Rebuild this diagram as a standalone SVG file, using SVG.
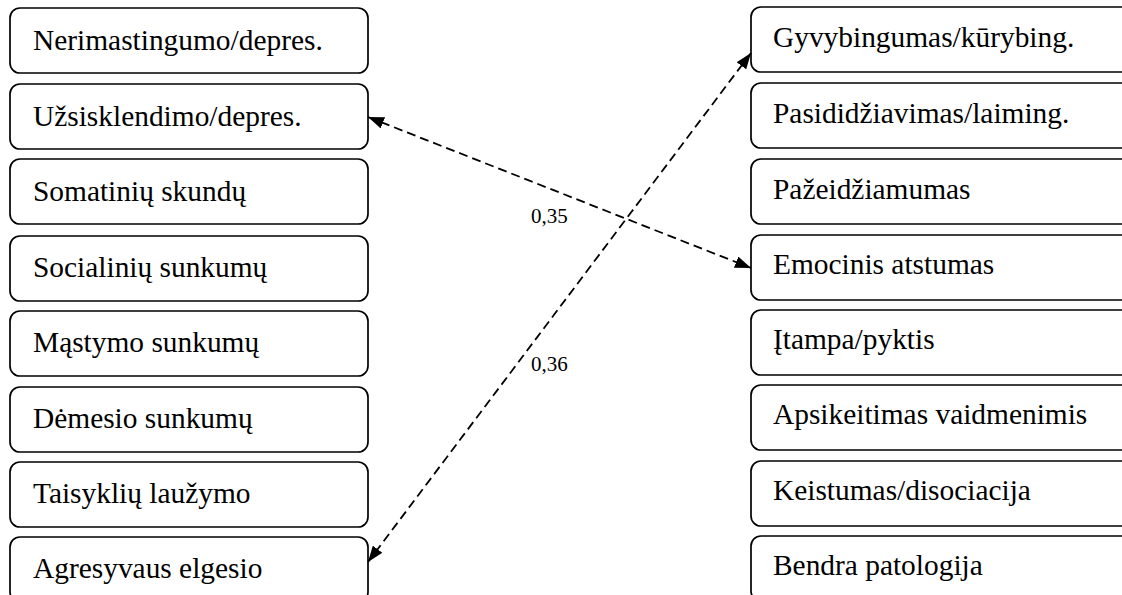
<svg xmlns="http://www.w3.org/2000/svg" width="1122" height="595" viewBox="0 0 1122 595">
<defs>
<style>
.box{fill:#fff;stroke:#000;stroke-width:1.7}
.t{font-family:"Liberation Serif","Times New Roman",serif;font-size:29.4px;fill:#000}
.lbl{font-family:"Liberation Serif","Times New Roman",serif;font-size:21px;fill:#000}
.con{fill:none;stroke:#000;stroke-width:1.8;stroke-dasharray:9,5}
</style>
<marker id="ah" viewBox="0 0 16 12" refX="16" refY="6" markerWidth="16" markerHeight="12" markerUnits="userSpaceOnUse" orient="auto-start-reverse">
<path d="M0,0 L16,6 L0,12 z" fill="#000"/>
</marker>
</defs>
<rect width="1122" height="595" fill="#fff"/>
<g id="n-l1"><rect class="box" x="10" y="8" width="358" height="65" rx="10"/><text class="t" x="33" y="50">Nerimastingumo/depres.</text></g>
<g id="n-l2"><rect class="box" x="10" y="84" width="358" height="65" rx="10"/><text class="t" x="33" y="126">Užsisklendimo/depres.</text></g>
<g id="n-l3"><rect class="box" x="10" y="159" width="358" height="65" rx="10"/><text class="t" x="33" y="201">Somatinių skundų</text></g>
<g id="n-l4"><rect class="box" x="10" y="236" width="358" height="65" rx="10"/><text class="t" x="33" y="277">Socialinių sunkumų</text></g>
<g id="n-l5"><rect class="box" x="10" y="311" width="358" height="65" rx="10"/><text class="t" x="33" y="352">Mąstymo sunkumų</text></g>
<g id="n-l6"><rect class="box" x="10" y="387" width="358" height="65" rx="10"/><text class="t" x="33" y="428">Dėmesio sunkumų</text></g>
<g id="n-l7"><rect class="box" x="10" y="462" width="358" height="65" rx="10"/><text class="t" x="33" y="503">Taisyklių laužymo</text></g>
<g id="n-l8"><rect class="box" x="10" y="537" width="358" height="65" rx="10"/><text class="t" x="33" y="578">Agresyvaus elgesio</text></g>
<g id="n-r1"><rect class="box" x="751" y="7" width="390" height="65" rx="10"/><text class="t" x="773" y="47">Gyvybingumas/kūrybing.</text></g>
<g id="n-r2"><rect class="box" x="751" y="83" width="390" height="65" rx="10"/><text class="t" x="773" y="123">Pasididžiavimas/laiming.</text></g>
<g id="n-r3"><rect class="box" x="751" y="159" width="390" height="65" rx="10"/><text class="t" x="773" y="199">Pažeidžiamumas</text></g>
<g id="n-r4"><rect class="box" x="751" y="235" width="390" height="65" rx="10"/><text class="t" x="773" y="274">Emocinis atstumas</text></g>
<g id="n-r5"><rect class="box" x="751" y="310" width="390" height="65" rx="10"/><text class="t" x="773" y="349">Įtampa/pyktis</text></g>
<g id="n-r6"><rect class="box" x="751" y="385" width="390" height="65" rx="10"/><text class="t" x="773" y="424">Apsikeitimas vaidmenimis</text></g>
<g id="n-r7"><rect class="box" x="751" y="461" width="390" height="65" rx="10"/><text class="t" x="773" y="500">Keistumas/disociacija</text></g>
<g id="n-r8"><rect class="box" x="751" y="536" width="390" height="65" rx="10"/><text class="t" x="773" y="575">Bendra patologija</text></g>
<g id="connectors">
<line class="con" x1="368" y1="117" x2="751" y2="268" marker-start="url(#ah)" marker-end="url(#ah)"/>
<line class="con" x1="751" y1="53" x2="368" y2="562" marker-start="url(#ah)" marker-end="url(#ah)"/>
<text class="lbl" x="531" y="223">0,35</text>
<text class="lbl" x="531" y="371">0,36</text>
</g>
</svg>
